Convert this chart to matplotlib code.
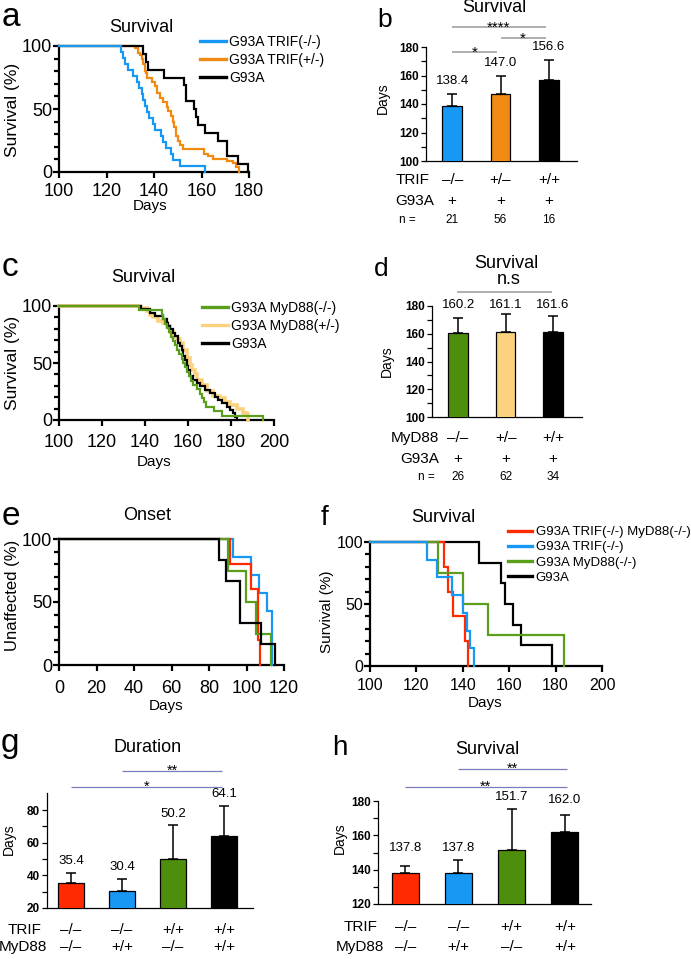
import numpy as np
import matplotlib.pyplot as plt
from matplotlib import transforms

plt.rcParams['font.family'] = ['Liberation Sans', 'DejaVu Sans']

W, H = 691, 959

# ── colours ──────────────────────────────────────────────────────
BLUE = '#1898f5'
ORANGE = '#f08a12'
GREEN = '#4d8f0c'
GREEN_L = '#5a9e1c'
YELLOW = '#fdd27e'
RED = '#ff2a00'
GREY = '#a8a8a8'
SLATE = '#7c7cbc'

# ── a: survival, TRIF ────────────────────────────────────────────
a_ko_days = [100, 126, 126.8, 127.8, 129.2, 131.3, 133, 133.8, 134.8, 135.5, 136.4, 136.9,
             138, 139.4, 140.4, 142.9, 143.9, 144.9, 147.2, 147.8, 150.9, 161.5]
a_ko_pct = [100, 95.2, 90.5, 85.7, 81, 76.2, 71.4, 66.7, 61.9, 57.1, 52.4, 47.6,
            42.9, 38.1, 33.3, 28.6, 23.8, 19, 14.3, 9.5, 4.8, 0]
a_het_days = [100, 132.0, 133.4, 134.1, 134.8, 135.5, 136.2, 136.5, 136.9, 139.0, 140.4, 141.1,
              142.5, 143.6, 145.3, 146.0, 147.0, 147.9, 148.4, 149.3, 150.2, 150.9, 152.1,
              161.1, 162.9, 165.0, 170.6, 173.4, 174.5, 175.8]
a_het_pct = [100, 98.2, 94.6, 92.9, 89.3, 85.7, 80.4, 78.6, 75, 71.4, 67.9, 62.5,
             58.9, 55.4, 51.8, 48.2, 44.6, 39.3, 35.7, 28.6, 25, 21.4, 17.9,
             14.3, 12.5, 10.7, 8.9, 7.1, 3.6, 0]
a_wt_days = [100, 135.5, 136.5, 137.3, 144.3, 152.5, 153.5, 157, 157.8, 158.5, 161.5,
             167, 170.8, 175.5, 179.5]
a_wt_pct = [100, 93.75, 87.5, 81.25, 75, 68.75, 56.25, 50, 43.75, 37.5, 31.25,
            25, 12.5, 6.25, 0]

# ── b: survival bars, TRIF ───────────────────────────────────────
b_geno = ['\u2013/\u2013', '+/\u2013', '+/+']
b_g93a = ['+', '+', '+']
b_n = ['21', '56', '16']
b_mean = [138.4, 147.0, 156.6]
b_err = [8.4, 12.4, 14.1]
b_labels = ['138.4', '147.0', '156.6']
b_sig = [(0, 1, '*'), (1, 2, '*'), (0, 2, '****')]

# ── c: survival, MyD88 ───────────────────────────────────────────
c_ko_days = [100, 137, 147.8, 148.5, 149.5, 150.3, 151, 151.9, 153, 154, 155, 156, 157,
             157.8, 158.5, 159.4, 160.5, 161.4, 162.5, 164, 165.6, 166.4, 167.4, 168.5,
             172, 175.7, 195]
c_ko_pct = [100, 96.2, 92.3, 88.5, 84.6, 80.8, 76.9, 73.1, 69.2, 65.4, 61.5, 57.7, 53.8,
            50, 46.2, 42.3, 38.5, 34.6, 30.8, 26.9, 23.1, 19.2, 15.4, 11.5,
            7.7, 3.8, 0]
c_het_days = [100, 137.7, 140.8, 142.3, 143.9, 146.2, 148.5, 150.1, 151.6, 153.2, 154.7,
              156.3, 157.8, 159.4, 160.9, 161.7, 163.3, 164, 166.4, 168.7, 171.8, 174.9,
              177.2, 179.5, 182.6, 185.7, 187.3, 188]
c_het_pct = [100, 98.4, 95.2, 91.9, 90.3, 87.1, 85.5, 82.3, 77.4, 72.6, 71, 67.7,
             61.3, 54.8, 48.4, 43.5, 40.3, 35.5, 30.6, 25.8, 21, 19.4,
             16.1, 12.9, 9.7, 6.5, 4.8, 0]
c_wt_days = [100, 138, 142.3, 144.6, 148.5, 150.1, 150.9, 151.6, 153.2, 153.9, 155.5,
             156.3, 157.1, 157.8, 158.6, 159.4, 160.1, 160.9, 162.5, 164, 165.6, 167.9,
             170.2, 172.6, 174.1, 175.7, 178, 179.5, 181.1, 181.9, 183]
c_wt_pct = [100, 97.1, 94.1, 91.2, 88.2, 85.3, 82.4, 79.4, 76.5, 73.5, 67.6,
            64.7, 61.8, 55.9, 52.9, 47.1, 44.1, 38.2, 35.3, 32.4, 29.4, 26.5,
            23.5, 20.6, 17.6, 14.7, 11.8, 8.8, 5.9, 2.9, 0]

# ── d: survival bars, MyD88 ──────────────────────────────────────
d_geno = ['\u2013/\u2013', '+/\u2013', '+/+']
d_g93a = ['+', '+', '+']
d_n = ['26', '62', '34']
d_mean = [160.2, 161.1, 161.6]
d_err = [11.2, 13.1, 11.2]
d_labels = ['160.2', '161.1', '161.6']

# ── e: onset, double knockouts ───────────────────────────────────
e_dko_days = [0, 91.2, 102.5, 106, 107.2]
e_dko_pct = [100, 80, 60, 20, 0]
e_trif_days = [0, 92.8, 102.5, 106.5, 111.1, 113.4]
e_trif_pct = [100, 85.7, 71.4, 57.1, 42.9, 0]
e_myd_days = [0, 90, 99.5, 104.8, 113.2]
e_myd_pct = [100, 75, 50, 25, 0]
e_wt_days = [0, 85.5, 89.3, 96.3, 107.6, 115]
e_wt_pct = [100, 83.3, 66.7, 33.3, 16.7, 0]

# ── f: survival, double knockouts ────────────────────────────────
f_dko_days = [100, 131.7, 133.8, 135.8, 141.1, 142.2]
f_dko_pct = [100, 80, 60, 40, 20, 0]
f_trif_days = [100, 124.5, 128.8, 135.5, 140, 141.8, 143.3, 144.9]
f_trif_pct = [100, 85.7, 71.4, 57.1, 42.9, 28.6, 14.3, 0]
f_myd_days = [100, 129.2, 140.2, 150.8, 183.7]
f_myd_pct = [100, 75, 50, 25, 0]
f_wt_days = [100, 147, 156.5, 158.2, 161.8, 164.9, 178.3]
f_wt_pct = [100, 83.3, 66.7, 50, 33.3, 16.7, 0]

# ── g / h: duration and survival bars ────────────────────────────
gh_trif = ['\u2013/\u2013', '\u2013/\u2013', '+/+', '+/+']
gh_myd = ['\u2013/\u2013', '+/+', '\u2013/\u2013', '+/+']
g_mean = [35.4, 30.4, 50.2, 64.1]
g_err = [6.3, 7.2, 20.4, 18.4]
g_labels = ['35.4', '30.4', '50.2', '64.1']
g_sig = [(1, 3, '**'), (0, 3, '*')]
h_mean = [137.8, 137.8, 151.7, 162.0]
h_err = [4.3, 8.0, 23.6, 10.0]
h_labels = ['137.8', '137.8', '151.7', '162.0']
h_sig = [(1, 3, '**'), (0, 3, '**')]

fig = plt.figure(figsize=(W / 100, H / 100), dpi=100)


def add_ax(x0, y0, x1, y1):
    return fig.add_axes([x0 / W, 1 - y1 / H, (x1 - x0) / W, (y1 - y0) / H])


def ftext(x, y, s, size, **kw):
    kw.setdefault('ha', 'center')
    kw.setdefault('va', 'center')
    return fig.text(x / W, 1 - y / H, s, fontsize=size, **kw)


def km_style(ax, xlim, xticks, size=13, xpad=4):
    ax.set_xlim(xlim)
    ax.set_ylim(0, 100)
    ax.set_xticks(xticks)
    ax.set_yticks([0, 50, 100])
    ax.set_yticks(np.arange(0, 101, 10), minor=True)
    for s in ['top', 'right']:
        ax.spines[s].set_visible(False)
    for s in ['left', 'bottom']:
        ax.spines[s].set_linewidth(1.6)
    ax.tick_params(which='both', direction='out', width=1.6, length=4,
                   labelsize=size, pad=1)
    ax.tick_params(axis='x', pad=xpad)
    ax.tick_params(which='minor', length=3.5)
    ax.patch.set_alpha(0)


def km(ax, days, pct, color, label, lw=1.6, z=3):
    ax.step(days, pct, where='post', color=color, lw=lw, label=label,
            clip_on=False, zorder=z, solid_joinstyle='miter')


def legend(ax, order, x, y, size, spacing):
    hs, ls = ax.get_legend_handles_labels()
    hs = [hs[ls.index(o)] for o in order]
    leg = ax.legend(hs, order, loc='upper left', bbox_to_anchor=(x / W, 1 - y / H),
                    bbox_transform=fig.transFigure, frameon=False, fontsize=size,
                    handlelength=1.85, handletextpad=0.25, labelspacing=spacing,
                    borderpad=0, borderaxespad=0)
    for h in leg.legend_handles:
        h.set_linewidth(2.4)


def bar_style(ax, xlim, ylim, major, minor):
    ax.set_xlim(xlim)
    ax.set_ylim(ylim)
    ax.set_xticks([])
    ax.set_yticks(major)
    ax.set_yticks(minor, minor=True)
    for s in ['top', 'right']:
        ax.spines[s].set_visible(False)
    for s in ['left', 'bottom']:
        ax.spines[s].set_linewidth(0.9)
    ax.tick_params(axis='y', which='both', direction='out', width=0.9, length=3.5,
                   labelsize=8.5, pad=1.5)
    for lab in ax.get_yticklabels():
        lab.set_fontweight('bold')
    ax.patch.set_alpha(0)


def bars(ax, means, errs, colors, width):
    x = np.arange(len(means))
    ax.bar(x, means, width, color=colors, edgecolor='black', lw=0.9, zorder=3)
    ax.errorbar(x, means, yerr=[np.zeros(len(errs)), errs], fmt='none', ecolor='black',
                elinewidth=1.1, capsize=3.6, capthick=1.1, zorder=2)
    return x


def table_row(ax, ypx, values, size):
    tr = transforms.blended_transform_factory(ax.transData, fig.transFigure)
    for i, v in enumerate(values):
        ax.text(i, 1 - ypx / H, v, transform=tr, ha='center', va='center', fontsize=size)


def sig(ax, i0, i1, y, s, color, lw, size, dy):
    ax.plot([i0, i1], [y, y], color=color, lw=lw, clip_on=False, solid_capstyle='butt')
    ax.annotate(s, ((i0 + i1) / 2, y), xytext=(0, dy), textcoords='offset points',
                ha='center', va='baseline', fontsize=size, annotation_clip=False)


# ── panel a ──────────────────────────────────────────────────────
ax = add_ax(59, 46, 249, 172)
km(ax, a_het_days, a_het_pct, ORANGE, 'G93A TRIF(+/-)')
km(ax, a_wt_days, a_wt_pct, 'black', 'G93A')
km(ax, a_ko_days, a_ko_pct, BLUE, 'G93A TRIF(-/-)')
km_style(ax, (100, 180), np.arange(100, 181, 20), xpad=4)
legend(ax, ['G93A TRIF(-/-)', 'G93A TRIF(+/-)', 'G93A'], 200, 35, 10, 0.3)
ftext(141, 27, 'Survival', 13)
ftext(12, 110, 'Survival (%)', 12.5, rotation=90)
ftext(150, 206, 'Days', 11)
ftext(2, 26, 'a', 24, ha='left', va='baseline')

# ── panel b ──────────────────────────────────────────────────────
ax = add_ax(426, 47, 577, 161)
bar_style(ax, (-0.54, 2.58), (100, 180), np.arange(100, 181, 20), np.arange(110, 180, 20))
x = bars(ax, b_mean, b_err, [BLUE, ORANGE, 'black'], 0.41)
for i, s in enumerate(b_labels):
    ax.annotate(s, (x[i], b_mean[i] + b_err[i]), xytext=(0, 9.5), textcoords='offset points',
                ha='center', va='center', fontsize=9.5)
for (i0, i1, s), y in zip(b_sig, [176.5, 186.3, 194]):
    sig(ax, i0, i1 - 0.07, y, s, GREY, 1.3, 11, -3.5)
table_row(ax, 180, b_geno, 11)
table_row(ax, 201, b_g93a, 11)
table_row(ax, 220, b_n, 8.5)
ftext(396, 180, 'TRIF', 11, ha='left')
ftext(395, 201, 'G93A', 11, ha='left')
ftext(399, 220, 'n =', 8.5, ha='left')
ftext(494, 8, 'Survival', 13)
ftext(383, 98, 'Days', 10, rotation=90)
ftext(377, 27, 'b', 19, ha='left', va='baseline')

# ── panel c ──────────────────────────────────────────────────────
ax = add_ax(59, 306, 274, 420)
km(ax, c_het_days, c_het_pct, YELLOW, 'G93A MyD88(+/-)', lw=2.6)
km(ax, c_wt_days, c_wt_pct, 'black', 'G93A')
km(ax, c_ko_days, c_ko_pct, GREEN_L, 'G93A MyD88(-/-)')
km_style(ax, (100, 200), np.arange(100, 201, 20), xpad=6)
legend(ax, ['G93A MyD88(-/-)', 'G93A MyD88(+/-)', 'G93A'], 202, 301, 10, 0.3)
ftext(143, 277, 'Survival', 13)
ftext(12, 363, 'Survival (%)', 12.5, rotation=90)
ftext(154, 462, 'Days', 11)
ftext(2, 276, 'c', 24, ha='left', va='baseline')

# ── panel d ──────────────────────────────────────────────────────
ax = add_ax(432, 306, 582, 417)
bar_style(ax, (-0.55, 2.61), (100, 180), np.arange(100, 181, 20), np.arange(110, 180, 20))
x = bars(ax, d_mean, d_err, [GREEN, YELLOW, 'black'], 0.41)
for i, s in enumerate(d_labels):
    ax.text(x[i], 181, s, ha='center', va='center', fontsize=9.5)
ax.plot([0, 1.96], [190.1, 190.1], color=GREY, lw=1.3, clip_on=False)
table_row(ax, 438, d_geno, 11)
table_row(ax, 459, d_g93a, 11)
table_row(ax, 477, d_n, 8.5)
ftext(439, 438, 'MyD88', 11, ha='right')
ftext(439, 459, 'G93A', 11, ha='right')
ftext(435, 477, 'n =', 8.5, ha='right')
ftext(509, 280, 'n.s', 13)
ftext(506, 264, 'Survival', 13)
ftext(387, 361, 'Days', 10, rotation=90)
ftext(374, 276, 'd', 19, ha='left', va='baseline')

# ── panel e ──────────────────────────────────────────────────────
ax = add_ax(59, 539, 284, 665)
km(ax, e_trif_days, e_trif_pct, BLUE, 'G93A TRIF(-/-)')
km(ax, e_dko_days, e_dko_pct, RED, 'G93A TRIF(-/-) MyD88(-/-)')
km(ax, e_myd_days, e_myd_pct, GREEN_L, 'G93A MyD88(-/-)')
km(ax, e_wt_days, e_wt_pct, 'black', 'G93A')
km_style(ax, (0, 120), np.arange(0, 121, 20), xpad=7)
ftext(147, 515, 'Onset', 13)
ftext(12, 595, 'Unaffected (%)', 12, rotation=90)
ftext(166, 706, 'Days', 11)
ftext(2, 525, 'e', 24, ha='left', va='baseline')

# ── panel f ──────────────────────────────────────────────────────
ax = add_ax(370, 542, 602, 666)
km(ax, f_wt_days, f_wt_pct, 'black', 'G93A')
km(ax, f_dko_days, f_dko_pct, RED, 'G93A TRIF(-/-) MyD88(-/-)')
km(ax, f_myd_days, f_myd_pct, GREEN_L, 'G93A MyD88(-/-)')
km(ax, f_trif_days, f_trif_pct, BLUE, 'G93A TRIF(-/-)')
km_style(ax, (100, 200), np.arange(100, 201, 20), size=11.5, xpad=5)
legend(ax, ['G93A TRIF(-/-) MyD88(-/-)', 'G93A TRIF(-/-)', 'G93A MyD88(-/-)', 'G93A'],
       508, 526, 9.5, 0.22)
ftext(443, 517, 'Survival', 13)
ftext(327, 612, 'Survival (%)', 11, rotation=90)
ftext(485, 703, 'Days', 11)
ftext(321, 525, 'f', 20, ha='left', va='baseline')

# ── panel g ──────────────────────────────────────────────────────
ax = add_ax(47, 793, 253, 908)
bar_style(ax, (-0.47, 3.57), (20, 90.5), np.arange(20, 81, 20), np.arange(30, 80, 20))
x = bars(ax, g_mean, g_err, [RED, BLUE, GREEN, 'black'], 0.51)
for i, s in enumerate(g_labels):
    ax.annotate(s, (x[i], g_mean[i] + g_err[i]), xytext=(0, 8.5), textcoords='offset points',
                ha='center', va='center', fontsize=9.5)
for (i0, i1, s), y in zip(g_sig, [104.0, 94.2]):
    sig(ax, i0, i1 - 0.03, y, s, SLATE, 0.9, 10.5, -2.5)
table_row(ax, 930, gh_trif, 11)
table_row(ax, 947, gh_myd, 11)
ftext(42, 930, 'TRIF', 11, ha='right')
ftext(47, 947, 'MyD88', 11, ha='right')
ftext(148, 747, 'Duration', 13)
ftext(9, 839, 'Days', 10, rotation=90)
ftext(1, 752, 'g', 24, ha='left', va='baseline')

# ── panel h ──────────────────────────────────────────────────────
ax = add_ax(378, 801, 591, 904)
bar_style(ax, (-0.51, 3.49), (120, 180), np.arange(120, 181, 20), np.arange(130, 180, 20))
x = bars(ax, h_mean, h_err, [RED, BLUE, GREEN, 'black'], 0.51)
for i, (s, y) in enumerate(zip(h_labels, [152.6, 152.6, 182.3, 180.6])):
    ax.text(x[i], y, s, ha='center', va='center', fontsize=9.5)
for (i0, i1, s), y in zip(h_sig, [198.6, 188.2]):
    sig(ax, i0, i1 + 0.03, y, s, SLATE, 0.9, 10.5, -2.5)
table_row(ax, 927, gh_trif, 11)
table_row(ax, 947, gh_myd, 11)
ftext(378, 927, 'TRIF', 11, ha='right')
ftext(384, 947, 'MyD88', 11, ha='right')
ftext(487, 749, 'Survival', 13)
ftext(340, 838, 'Days', 10, rotation=90)
ftext(332, 755, 'h', 20, ha='left', va='baseline')

fig.savefig('out.png', dpi=100)
